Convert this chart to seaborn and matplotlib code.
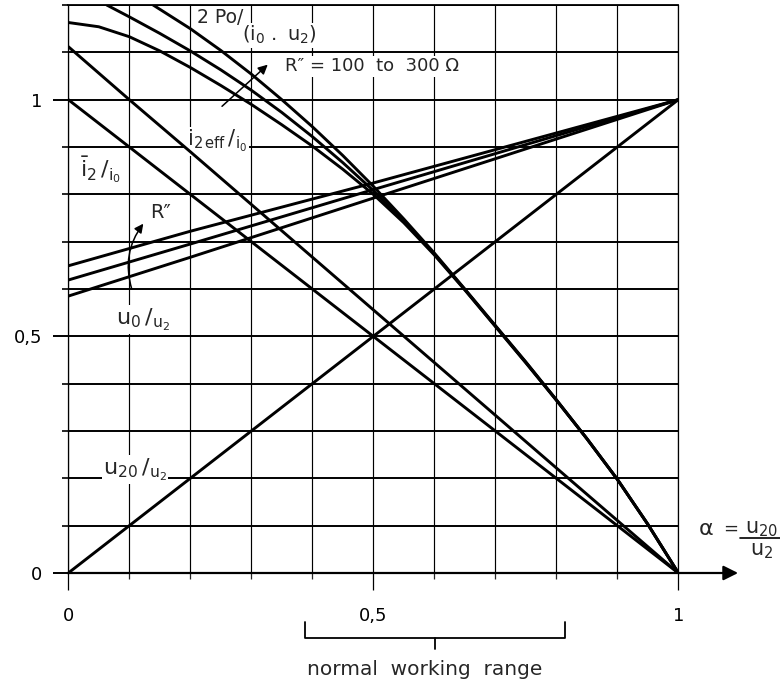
import numpy as np
import pandas as pd
import matplotlib
matplotlib.use("Agg")
import matplotlib.pyplot as plt
import seaborn as sns
from matplotlib.patches import FancyArrowPatch

# ---------------- data ----------------
alpha_u20 = [0.0, 1.0]
u20_u2 = [0.0, 1.0]

alpha_i2mean = [0.0, 1.0]
i2mean_i0 = [1.0, 0.0]

alpha_i2eff = [0.0, 0.1, 0.2, 0.5, 0.8, 1.0]
i2eff_i0 = [1.112, 1.0, 0.89, 0.556, 0.222, 0.0]

alpha_u0 = [0.0, 0.2, 0.5, 1.0]
u0_u2_a = [0.649, 0.722, 0.824, 1.0]
u0_u2_b = [0.619, 0.695, 0.810, 1.0]
u0_u2_c = [0.585, 0.667, 0.792, 1.0]

alpha_p_a = [0.139, 0.15, 0.2, 0.25, 0.3, 0.35, 0.4, 0.45, 0.5, 0.55, 0.6, 0.65,
             0.7, 0.75, 0.8, 0.85, 0.9, 0.95, 1.0]
p_a = [1.2, 1.191, 1.15, 1.104, 1.054, 1.0, 0.943, 0.882, 0.817, 0.748, 0.676, 0.600,
       0.523, 0.446, 0.366, 0.284, 0.198, 0.103, 0.0]
alpha_p_b = [0.063, 0.1, 0.15, 0.2, 0.25, 0.3, 0.35, 0.4, 0.45, 0.5, 0.55, 0.6, 0.65,
             0.7, 0.75, 0.8, 0.85, 0.9, 0.95, 1.0]
p_b = [1.2, 1.175, 1.14, 1.103, 1.063, 1.02, 0.973, 0.922, 0.867, 0.808, 0.743, 0.674, 0.599,
       0.522, 0.445, 0.366, 0.284, 0.198, 0.103, 0.0]
alpha_p_c = [0.0, 0.05, 0.1, 0.15, 0.2, 0.25, 0.3, 0.35, 0.4, 0.45, 0.5, 0.55, 0.6, 0.65,
             0.7, 0.75, 0.8, 0.85, 0.9, 0.95, 1.0]
p_c = [1.163, 1.154, 1.133, 1.103, 1.068, 1.03, 0.99, 0.947, 0.902, 0.853, 0.80, 0.74, 0.672,
       0.598, 0.521, 0.444, 0.365, 0.284, 0.198, 0.103, 0.0]

x_major = [0.0, 0.5, 1.0]
x_major_labels = ["0", "0,5", "1"]
y_major = [0.0, 0.5, 1.0]
y_major_labels = ["0", "0,5", "1"]
grid_step = 0.1
working_range = [0.388, 0.814]

# ---------------- figure ----------------
sns.set_theme(style="white")
plt.rcParams['font.family'] = ['DejaVu Sans']
plt.rcParams['mathtext.default'] = 'regular'

fig = plt.figure(figsize=(7.8, 6.81), dpi=100)
ax = fig.add_axes([68.3 / 780, 108 / 681, 610 / 780, 568 / 681])

series = {
    "u20/u2": (alpha_u20, u20_u2),
    "i2mean/i0": (alpha_i2mean, i2mean_i0),
    "i2eff/i0": (alpha_i2eff, i2eff_i0),
    "u0/u2 a": (alpha_u0, u0_u2_a),
    "u0/u2 b": (alpha_u0, u0_u2_b),
    "u0/u2 c": (alpha_u0, u0_u2_c),
    "P a": (alpha_p_a, p_a),
    "P b": (alpha_p_b, p_b),
    "P c": (alpha_p_c, p_c),
}
rows = []
for name, (a, v) in series.items():
    for xx, yy in zip(a, v):
        rows.append((name, xx, yy))
df = pd.DataFrame(rows, columns=["curve", "alpha", "value"])

sns.lineplot(data=df, x="alpha", y="value", units="curve", estimator=None,
             color="black", lw=2.1, sort=False, ax=ax, legend=False, zorder=3)

ax.set_xlim(0, 1)
ax.set_ylim(0, 1.2)
ax.set_xlabel("")
ax.set_ylabel("")

minor = np.round(np.arange(0, 1.2001, grid_step), 2)
ax.set_xticks(x_major)
ax.set_xticklabels(x_major_labels, fontsize=13)
ax.set_xticks([m for m in minor if m <= 1.0 and m not in x_major], minor=True)
ax.set_yticks(y_major)
ax.set_yticklabels(y_major_labels, fontsize=13)
ax.set_yticks([m for m in minor if m not in y_major], minor=True)

ax.tick_params(axis="x", which="major", direction="out", length=12.5, width=0.9, pad=12, colors="black")
ax.tick_params(axis="x", which="minor", direction="out", length=4, width=0.9)
ax.tick_params(axis="y", which="major", direction="out", length=11, width=1.4, pad=8, colors="black")
ax.tick_params(axis="y", which="minor", direction="out", length=4, width=1.4)
ax.tick_params(bottom=True, left=True, which="both")

ax.set_axisbelow(True)
ax.xaxis.grid(True, which="both", color="black", lw=0.85)
ax.yaxis.grid(True, which="both", color="black", lw=1.4)

for s in ["left", "right", "top"]:
    ax.spines[s].set_color("black")
    ax.spines[s].set_linewidth(0.9)
ax.spines["top"].set_linewidth(1.3)
ax.spines["bottom"].set_color("black")
ax.spines["bottom"].set_linewidth(1.6)

# x-axis arrow and axis label
ax.annotate("", xy=(1.098, 0), xytext=(1.0, 0),
            arrowprops=dict(arrowstyle="-|>", lw=1.6, color="black", mutation_scale=22,
                            shrinkA=0, shrinkB=0),
            annotation_clip=False)
ax.text(1.032, 0.093, r"$\alpha$", fontsize=16, ha="left", va="center", clip_on=False)
ax.text(1.085, 0.093, "=", fontsize=13, ha="center", va="center", clip_on=False)
ax.text(1.110, 0.093, r"$u_{20}$", fontsize=15, ha="left", va="center", clip_on=False)
ax.plot([1.101, 1.2], [0.073, 0.073], color="black", lw=1.2, clip_on=False)
ax.text(1.118, 0.047, r"$u_2$", fontsize=15, ha="left", va="center", clip_on=False)

# labels with white boxes
box = dict(facecolor="white", edgecolor="none", pad=1.0)
fs = 13
ax.text(0.211, 1.174, "2 Po/", fontsize=13.5, ha="left", va="center", bbox=box, zorder=2)
ax.text(0.284, 1.136, r"$(i_0\ .\ u_2)$", fontsize=fs + 1, ha="left", va="center", bbox=box, zorder=2)
ax.text(0.355, 1.071, "R\u2033 = 100  to  300 \u03a9", fontsize=fs, ha="left", va="center",
        bbox=box, zorder=2)
ax.text(0.195, 0.912, r"$i_{2\,eff}\,/_{i_0}$", fontsize=fs + 2, ha="left", va="center",
        bbox=box, zorder=2)
ax.text(0.02, 0.852, r"$\bar{i}_2\,/_{i_0}$", fontsize=fs + 3, ha="left", va="center",
        bbox=box, zorder=2)
ax.text(0.134, 0.762, "R\u2033", fontsize=fs + 1, ha="left", va="center", zorder=2)
ax.text(0.079, 0.535, r"$u_0\,/_{u_2}$", fontsize=fs + 3, ha="left", va="center",
        bbox=box, zorder=2)
ax.text(0.057, 0.218, r"$u_{20}\,/_{u_2}$", fontsize=fs + 3, ha="left", va="center",
        bbox=box, zorder=2)

# R'' arrows
ax.add_patch(FancyArrowPatch((0.252, 0.986), (0.327, 1.074), arrowstyle="-|>",
                             mutation_scale=14, lw=1.1, color="black", zorder=4,
                             shrinkA=0, shrinkB=0))
ax.add_patch(FancyArrowPatch((0.104, 0.600), (0.123, 0.738), arrowstyle="-|>",
                             connectionstyle="arc3,rad=-0.25",
                             mutation_scale=13, lw=1.1, color="black", zorder=4,
                             shrinkA=0, shrinkB=0))

# normal working range bracket
wl, wr = working_range
yb, yt, ym = -0.137, -0.104, -0.160
ax.plot([wl, wl, wr, wr], [yt, yb, yb, yt], color="black", lw=1.3, clip_on=False)
mid = (wl + wr) / 2
ax.plot([mid, mid], [yb, ym], color="black", lw=1.3, clip_on=False)
ax.text(0.585, -0.203, "normal  working  range", fontsize=14.5, ha="center", va="center",
        clip_on=False)

fig.savefig("out.png", dpi=100)
